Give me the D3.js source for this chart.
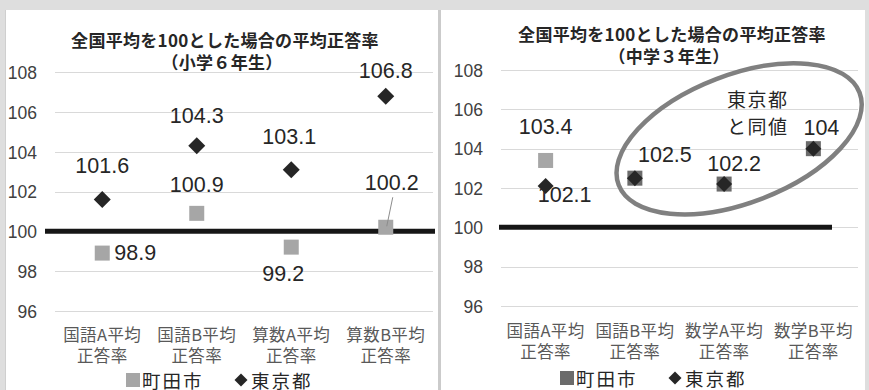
<!DOCTYPE html>
<html lang="ja">
<head>
<meta charset="utf-8">
<script src="https://cdn.jsdelivr.net/npm/d3@7"></script>
<style>
  html, body { margin: 0; padding: 0; background: #dedede; }
  svg { display: block; }
  .num { font-family: "Liberation Sans", Arial, sans-serif; }
  .jp { font-family: "Noto Sans CJK JP", "Noto Sans", sans-serif; }
</style>
</head>
<body>
<svg id="chart" width="869" height="390"></svg>
<script>
// 全国平均を100とした場合の平均正答率（町田市・東京都）
const elemCategories = ["国語A平均正答率", "国語B平均正答率", "算数A平均正答率", "算数B平均正答率"];
const juniorCategories = ["国語A平均正答率", "国語B平均正答率", "数学A平均正答率", "数学B平均正答率"];
const elemMachida = [98.9, 100.9, 99.2, 100.2];
const elemTokyo = [101.6, 104.3, 103.1, 106.8];
const juniorMachida = [103.4, 102.5, 102.2, 104];
const juniorTokyo = [102.1, 102.5, 102.2, 104];
const yTicks = [96, 98, 100, 102, 104, 106, 108];
const nationalAverage = 100;
const seriesNames = ["町田市", "東京都"];
const titleMain = "全国平均を100とした場合の平均正答率";
const elemSubtitle = "（小学６年生）";
const juniorSubtitle = "（中学３年生）";
const noteLines = ["東京都", "と同値"];

const svg = d3.select("#chart");

const COLORS = {
  light: "#a6a6a6",
  dark: "#6b6b6b",
  diamond: "#262626",
  grid: "#d9d9d9",
  avg: "#161616",
  label: "#262626",
  tick: "#404040",
  cat: "#595959"
};

// label placement for each point: offset of the label from the marker
const elemMachidaLabels = [
  { dx: 12, dy: -1, anchor: "start" },
  { dx: 0, dy: -29 },
  { dx: -8, dy: 26 },
  { dx: 6, dy: -45, leader: true }
];
const elemTokyoLabels = [
  { dx: 0, dy: -34 }, { dx: 0, dy: -31 }, { dx: -2, dy: -33 }, { dx: 0, dy: -26 }
];
const juniorMachidaLabels = [
  { dx: 0, dy: -34.5 }, { dx: 30, dy: -24 }, { dx: 10, dy: -21 }, { dx: 8, dy: -21 }
];
const juniorTokyoLabels = [
  { dx: 19, dy: 8 }, null, null, null
];

// panel frames
svg.append("rect").attr("x", 5).attr("y", 10).attr("width", 433).attr("height", 390)
  .attr("fill", "#fff");
svg.append("rect").attr("x", 438).attr("y", 10).attr("width", 3).attr("height", 390)
  .attr("fill", "#cbcbcb");
svg.append("rect").attr("x", 441).attr("y", 10).attr("width", 424).attr("height", 390)
  .attr("fill", "#fff");
svg.append("line").attr("x1", 5.5).attr("x2", 5.5).attr("y1", 10).attr("y2", 390)
  .attr("stroke", "#cfcfcf");

function diamondPath(r) {
  return `M0,${-r}L${r},0L0,${r}L${-r},0Z`;
}

function drawPanel(cfg) {
  const g = svg.append("g");
  const x = d3.scaleBand().domain(cfg.categories).range(cfg.xRange).padding(0);
  const y = d3.scaleLinear().domain([96, 108]).range(cfg.yRange);
  const cx = c => x(c) + x.bandwidth() / 2;

  // gridlines
  g.append("g").selectAll("line").data(yTicks).join("line")
    .attr("x1", cfg.xRange[0]).attr("x2", cfg.xRange[1])
    .attr("y1", d => Math.round(y(d)) + 0.5).attr("y2", d => Math.round(y(d)) + 0.5)
    .attr("stroke", COLORS.grid).attr("stroke-width", 1);

  // y axis tick labels
  const axis = d3.axisLeft(y).tickValues(yTicks).tickSize(0).tickPadding(0);
  const ag = g.append("g").attr("transform", `translate(${cfg.tickX},0)`).call(axis);
  ag.select(".domain").remove();
  ag.selectAll("text").attr("class", "num").attr("font-size", 17.5)
    .attr("fill", COLORS.tick).attr("dy", "0.36em");

  // category labels (two lines)
  const cg = g.append("g").selectAll("text").data(cfg.categories).join("text")
    .attr("class", "jp").attr("text-anchor", "middle").attr("font-size", 16.5)
    .attr("letter-spacing", 0.4)
    .attr("fill", COLORS.cat).attr("dominant-baseline", "central");
  cg.append("tspan").attr("x", d => cx(d)).attr("y", cfg.catY).text(d => d.slice(0, 5));
  cg.append("tspan").attr("x", d => cx(d)).attr("y", cfg.catY + 21.5).text(d => d.slice(5));

  // national average line
  g.append("line")
    .attr("x1", cfg.avgX[0]).attr("x2", cfg.avgX[1])
    .attr("y1", y(nationalAverage)).attr("y2", y(nationalAverage))
    .attr("stroke", COLORS.avg).attr("stroke-width", 5);

  // 町田市 squares
  const sq = 15;
  g.append("g").selectAll("rect").data(cfg.machida).join("rect")
    .attr("x", (d, i) => cx(cfg.categories[i]) - sq / 2)
    .attr("y", d => y(d) - sq / 2)
    .attr("width", sq).attr("height", sq)
    .attr("fill", (d, i) => cfg.squareColor(d, i));

  // 東京都 diamonds
  g.append("g").selectAll("path").data(cfg.tokyo).join("path")
    .attr("d", diamondPath(cfg.diamondR))
    .attr("transform", (d, i) => `translate(${cx(cfg.categories[i])},${y(d)})`)
    .attr("fill", COLORS.diamond);

  // data labels
  function labels(values, places) {
    values.forEach((v, i) => {
      const p = places[i];
      if (!p) return;
      const px = cx(cfg.categories[i]);
      const py = y(v);
      if (p.leader) {
        g.append("line")
          .attr("x1", px + p.dx + 1).attr("y1", py + p.dy + 15)
          .attr("x2", px + 1).attr("y2", py - 1)
          .attr("stroke", "#8c8c8c").attr("stroke-width", 1);
      }
      g.append("text").attr("class", "num")
        .attr("x", px + p.dx).attr("y", py + p.dy + 0.36 * 21.5)
        .attr("text-anchor", p.anchor || "middle")
        .attr("font-size", 21.5).attr("fill", COLORS.label)
        .text(v);
    });
  }
  labels(cfg.machida, cfg.machidaLabels);
  labels(cfg.tokyo, cfg.tokyoLabels);

  // title
  g.append("text").attr("class", "jp").attr("x", cfg.titleX).attr("y", cfg.titleY)
    .attr("text-anchor", "middle").attr("dominant-baseline", "central")
    .attr("font-size", 17).attr("font-weight", 700).attr("letter-spacing", 0.3)
    .attr("fill", COLORS.label)
    .text(titleMain);
  g.append("text").attr("class", "jp").attr("x", cfg.titleX - 3).attr("y", cfg.titleY + 22)
    .attr("text-anchor", "middle").attr("dominant-baseline", "central")
    .attr("font-size", 17).attr("font-weight", 700).attr("letter-spacing", 0.3)
    .attr("fill", COLORS.label)
    .text(cfg.subtitle);

  // legend
  const lc = cfg.legendX, ly = cfg.legendY;
  g.append("rect").attr("x", lc - 96).attr("y", ly - 7).attr("width", 14).attr("height", 14)
    .attr("fill", cfg.legendSquare);
  g.append("text").attr("class", "jp").attr("x", lc - 80).attr("y", ly)
    .attr("dominant-baseline", "central").attr("font-size", 18.5)
    .attr("letter-spacing", 2).attr("fill", COLORS.label).text(seriesNames[0]);
  g.append("path").attr("d", diamondPath(6.5))
    .attr("transform", `translate(${lc + 19},${ly})`).attr("fill", COLORS.diamond);
  g.append("text").attr("class", "jp").attr("x", lc + 29).attr("y", ly)
    .attr("dominant-baseline", "central").attr("font-size", 18.5)
    .attr("letter-spacing", 2).attr("fill", COLORS.label).text(seriesNames[1]);

  return { x, y, cx, g };
}

drawPanel({
  categories: elemCategories,
  machida: elemMachida,
  tokyo: elemTokyo,
  machidaLabels: elemMachidaLabels,
  tokyoLabels: elemTokyoLabels,
  xRange: [55, 433],
  yRange: [310.7, 72.3],
  tickX: 37,
  catY: 333.5,
  avgX: [45, 435],
  diamondR: 8.5,
  squareColor: () => COLORS.light,
  titleX: 225, titleY: 39.5,
  subtitle: elemSubtitle,
  legendX: 222, legendY: 380,
  legendSquare: COLORS.light
});

const junior = drawPanel({
  categories: juniorCategories,
  machida: juniorMachida,
  tokyo: juniorTokyo,
  machidaLabels: juniorMachidaLabels,
  tokyoLabels: juniorTokyoLabels,
  xRange: [501, 858],
  yRange: [306, 70],
  tickX: 483,
  catY: 329.5,
  avgX: [499, 832],
  diamondR: 8,
  // points matching the Tokyo value are drawn dark
  squareColor: (d, i) => d === juniorTokyo[i] ? COLORS.dark : COLORS.light,
  titleX: 672, titleY: 33.5,
  subtitle: juniorSubtitle,
  legendX: 656, legendY: 378,
  legendSquare: COLORS.dark
});

// ring around the points equal to Tokyo, with its note
const ringCx = (junior.cx(juniorCategories[1]) + junior.cx(juniorCategories[3])) / 2 + 15;
const ringCy = junior.y(104.5);
junior.g.append("ellipse")
  .attr("cx", 0).attr("cy", 0).attr("rx", 129).attr("ry", 64)
  .attr("transform", `translate(${ringCx},${ringCy}) rotate(-21)`)
  .attr("fill", "none").attr("stroke", "#808080").attr("stroke-width", 4.5);
junior.g.append("g").selectAll("text").data(noteLines).join("text")
  .attr("class", "jp").attr("x", 727).attr("y", (d, i) => 98.5 + i * 27)
  .attr("dominant-baseline", "central").attr("font-size", 19).attr("letter-spacing", 1.5)
  .attr("fill", COLORS.label).text(d => d);
</script>
</body>
</html>
